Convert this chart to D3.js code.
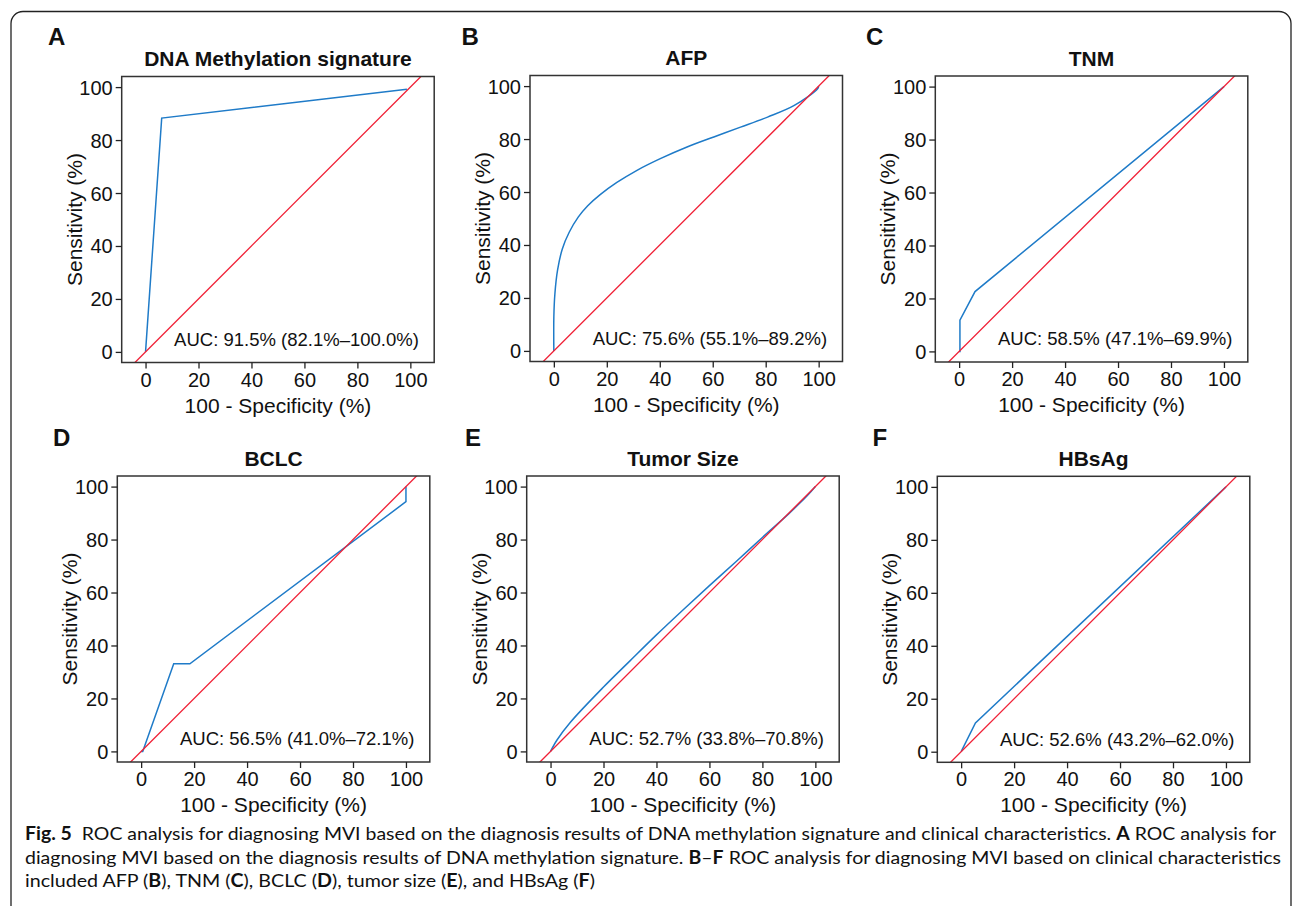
<!DOCTYPE html>
<html>
<head>
<meta charset="utf-8">
<script src="https://cdn.jsdelivr.net/npm/d3@7"></script>
<style>
  body { margin: 0; background: #fff; }
  text { font-family: "Liberation Sans", Arial, sans-serif; fill: #111; }
  .cap text, text.cap { font-family: Lato, "Open Sans", sans-serif; }
</style>
</head>
<body>
<div id="chart"></div>
<script>
// panel labels and titles
var panelLetters = ["A", "B", "C", "D", "E", "F"];
var panelTitles = ["DNA Methylation signature", "AFP", "TNM", "BCLC", "Tumor Size", "HBsAg"];
var aucLabels = [
  "AUC: 91.5% (82.1%\u2013100.0%)",
  "AUC: 75.6% (55.1%\u201389.2%)",
  "AUC: 58.5% (47.1%\u201369.9%)",
  "AUC: 56.5% (41.0%\u201372.1%)",
  "AUC: 52.7% (33.8%\u201370.8%)",
  "AUC: 52.6% (43.2%\u201362.0%)"
];
var xTicks = [0, 20, 40, 60, 80, 100];
var yTicks = [0, 20, 40, 60, 80, 100];

// ROC points: [100 - specificity, sensitivity] in %
var rocA = [[0, 0], [6.1, 88.3], [98.7, 99.2]];
var rocB = [[0, 0], [0, 12.8], [0.4, 21.6], [1.4, 30.5], [3.2, 38.5], [5.8, 44.8], [9.2, 50.5],
            [12.8, 54.8], [17.5, 59.0], [23.8, 63.6], [31.4, 68.2], [40.2, 72.6], [50.3, 77.0],
            [60.4, 80.8], [70.5, 84.5], [80.7, 88.3], [90.8, 92.7], [99.6, 99.0], [100, 100]];
var rocC = [[0, 0], [0.3, 0], [0.3, 11.8], [6.0, 22.6], [100, 100]];
var rocD = [[0, 0], [0.6, 0], [12.3, 33.1], [18.4, 33.1], [100, 94.3], [100, 100]];
var rocE = [[0, 0], [2.5, 4.4], [7.5, 11.0], [20, 24.3], [30, 34.2], [40, 44.0], [50, 53.4],
            [60, 62.6], [70, 71.6], [80, 80.8], [90, 89.8], [97, 96.6], [100, 100]];
var rocF = [[0, 0], [5.4, 10.9], [100, 100]];
var rocData = [rocA, rocB, rocC, rocD, rocE, rocF];
var smoothCurve = [false, true, false, false, true, false];

var captionLines = [
  [["Fig. 5", true], ["  ROC analysis for diagnosing MVI based on the diagnosis results of DNA methylation signature and clinical characteristics. ", false], ["A", true], [" ROC analysis for", false]],
  [["diagnosing MVI based on the diagnosis results of DNA methylation signature. ", false], ["B", true], ["\u2013", false], ["F", true], [" ROC analysis for diagnosing MVI based on clinical characteristics", false]],
  [["included AFP (", false], ["B", true], ["), TNM (", false], ["C", true], ["), BCLC (", false], ["D", true], ["), tumor size (", false], ["E", true], ["), and HBsAg (", false], ["F", true], [")", false]]
];

var width = 1293, height = 906;
var svg = d3.select("#chart").append("svg")
    .attr("width", width)
    .attr("height", height);

// outer figure frame (bottom runs off the page)
svg.append("rect")
    .attr("x", 11).attr("y", 11.5)
    .attr("width", 1280).attr("height", 1000)
    .attr("rx", 12).attr("ry", 12)
    .attr("fill", "none").attr("stroke", "#222").attr("stroke-width", 1.3);

// plot boxes, left/top of each panel
var boxLeft = [121.7, 530, 935.3, 117.3, 526.7, 937.3];
var boxTop = [76.5, 75.5, 76, 476, 476, 476.3];
var boxW = 312.5, boxH = 286;
var letterPos = [[48, 45], [461.5, 45], [866, 45], [53, 446], [465, 446], [872.5, 446]];

panelLetters.forEach(function(letter, i) {
  var L = boxLeft[i], T = boxTop[i];
  var k = boxH / 108;                 // px per unit, asp = 1
  var half = boxW / 2 / k;
  var x = d3.scaleLinear().domain([50 - half, 50 + half]).range([L, L + boxW]);
  var y = d3.scaleLinear().domain([-4, 104]).range([T + boxH, T]);

  var g = svg.append("g");

  g.append("clipPath").attr("id", "clip" + i)
    .append("rect").attr("x", L).attr("y", T).attr("width", boxW).attr("height", boxH);

  var plot = g.append("g").attr("clip-path", "url(#clip" + i + ")");

  var line = d3.line()
      .x(function(d) { return x(d[0]); })
      .y(function(d) { return y(d[1]); })
      .curve(smoothCurve[i] ? d3.curveCatmullRom.alpha(0.5) : d3.curveLinear);

  plot.append("path")
      .datum(rocData[i])
      .attr("d", line)
      .attr("fill", "none")
      .attr("stroke", "#1f7bc8")
      .attr("stroke-width", 1.5);

  // chance line
  var dom = x.domain();
  plot.append("line")
      .attr("x1", x(dom[0])).attr("y1", y(dom[0]))
      .attr("x2", x(dom[1])).attr("y2", y(dom[1]))
      .attr("stroke", "#f01f35")
      .attr("stroke-width", 1.3);

  g.append("rect")
      .attr("x", L).attr("y", T).attr("width", boxW).attr("height", boxH)
      .attr("fill", "none").attr("stroke", "#333").attr("stroke-width", 1.5);

  // x axis
  var xa = g.append("g")
      .attr("transform", "translate(0," + (T + boxH) + ")")
      .call(d3.axisBottom(x).tickValues(xTicks).tickSize(6).tickSizeOuter(0));
  xa.select(".domain").remove();
  xa.selectAll("line").attr("stroke", "#222").attr("stroke-width", 1.3);
  xa.selectAll("text").attr("y", 24).attr("dy", null)
      .style("font-size", "20px").style("font-family", "Liberation Sans, Arial, sans-serif").attr("fill", "#111");

  // y axis
  var ya = g.append("g")
      .attr("transform", "translate(" + L + ",0)")
      .call(d3.axisLeft(y).tickValues(yTicks).tickSize(6).tickSizeOuter(0));
  ya.select(".domain").remove();
  ya.selectAll("line").attr("stroke", "#222").attr("stroke-width", 1.3);
  ya.selectAll("text").attr("x", -9).attr("dy", "0.35em")
      .style("font-size", "20px").style("font-family", "Liberation Sans, Arial, sans-serif").attr("fill", "#111");

  // axis titles
  g.append("text")
      .attr("x", L + boxW / 2).attr("y", T + boxH + 50)
      .attr("text-anchor", "middle")
      .style("font-size", "21px")
      .text("100 - Specificity (%)");

  g.append("text")
      .attr("transform", "translate(" + (L - 40) + "," + (T + boxH / 2) + ") rotate(-90)")
      .attr("text-anchor", "middle")
      .style("font-size", "21px")
      .text("Sensitivity (%)");

  // panel title + letter
  g.append("text")
      .attr("x", L + boxW / 2).attr("y", T - 10.5)
      .attr("text-anchor", "middle")
      .style("font-size", "21px").style("font-weight", "bold")
      .text(panelTitles[i]);

  g.append("text")
      .attr("x", letterPos[i][0]).attr("y", letterPos[i][1])
      .style("font-size", "24px").style("font-weight", "bold")
      .text(letter);

  // AUC annotation
  g.append("text")
      .attr("x", x(103.2)).attr("y", y(2.3))
      .attr("text-anchor", "end")
      .style("font-size", "18.5px")
      .text(aucLabels[i]);
});

// caption
var capWidths = [1251, 1256, 570];
var capY = [840, 863.5, 887];
captionLines.forEach(function(parts, j) {
  var t = svg.append("text")
      .attr("class", "cap")
      .attr("x", 25).attr("y", capY[j])
      .style("font-size", "18px");
  parts.forEach(function(p) {
    t.append("tspan")
        .style("font-weight", p[1] ? "bold" : "normal")
        .attr("xml:space", "preserve")
        .text(p[0]);
  });
  t.attr("textLength", capWidths[j]).attr("lengthAdjust", "spacingAndGlyphs");
});
</script>
</body>
</html>
